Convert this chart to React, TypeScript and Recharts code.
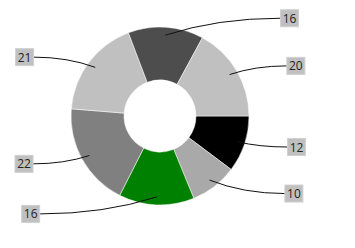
import { PieChart, Pie, Cell } from "recharts"

const values = [12, 10, 16, 22, 21, 16, 20]
const names = ["A", "B", "C", "D", "E", "F", "G"]
const colors = ["#000000", "#a9a9a9", "#008000", "#808080", "#c0c0c0", "#4d4d4d", "#c0c0c0"]

const data = values.map((v, i) => ({ name: names[i], value: v }))

const RAD = Math.PI / 180

function renderLabel(props: any) {
  const { cx, cy, midAngle, value } = props
  const c = Math.cos(-midAngle * RAD)
  const s = Math.sin(-midAngle * RAD)
  const ax = cx + 81 * c
  const ay = cy + 81 * s
  const ly = cy + 98 * s
  const right = c >= 0
  const edge = right ? cx + 120 + 8 * Math.abs(c) : cx - 120 - 8 * Math.abs(c)
  const w = 18
  const h = 17
  const boxX = right ? edge : edge - w
  const qx = ax + (edge - ax) * 0.45
  return (
    <g>
      <path
        d={`M${ax},${ay} Q${qx},${ly} ${edge},${ly}`}
        fill="none"
        stroke="#111"
        strokeWidth={1}
      />
      <rect x={boxX} y={ly - h / 2} width={w} height={h} fill="#c0c0c0" stroke="#d0d0d0" strokeWidth={1} />
      <text
        x={boxX + w / 2}
        y={ly}
        textAnchor="middle"
        dominantBaseline="central"
        fontSize={12}
        fill="#222"
        fontFamily="'Open Sans', sans-serif"
      >
        {value}
      </text>
    </g>
  )
}

export default function App() {
  return (
    <div style={{ position: "absolute", left: 0, top: 0, background: "#fff" }}>
      <PieChart width={355} height={248} margin={{ top: 0, right: 0, bottom: 0, left: 0 }}>
        <Pie
          data={data}
          dataKey="value"
          cx={160}
          cy={116}
          innerRadius={36}
          outerRadius={89}
          startAngle={0}
          endAngle={-360}
          stroke="#fff"
          strokeWidth={0.5}
          label={renderLabel}
          labelLine={false}
          isAnimationActive={false}
        >
          {data.map((d, i) => (
            <Cell key={d.name} fill={colors[i]} />
          ))}
        </Pie>
      </PieChart>
    </div>
  )
}
